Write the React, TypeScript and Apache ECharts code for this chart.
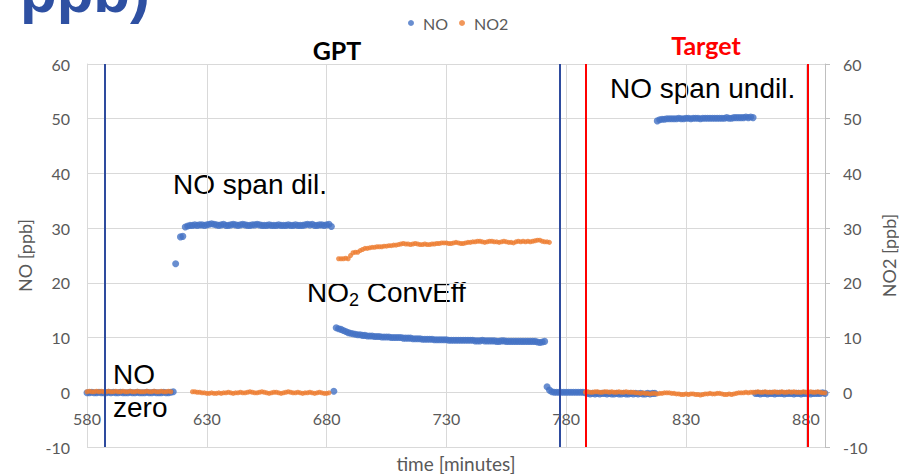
import React, { useEffect, useRef } from "react";
import * as echarts from "echarts";

// NO [ppb] readings, one per minute; each segment = [start minute, values]
const noZeroStart = 580;
const noZero = [
  -0.1, -0.1, 0.0, -0.1, -0.1, 0.0, -0.1, -0.1, -0.1, 0.0,
  -0.1, 0.0, -0.1, -0.1, 0.0, -0.1, -0.1, -0.1, 0.0, -0.1,
  -0.1, 0.0, -0.1, -0.1, -0.1, 0.0, -0.1, -0.1, 0.0, -0.1,
  -0.1, -0.1, 0.0, -0.1, -0.1, 0.0, 0.1, 23.5,
];
const noSpanDilStart = 619;
const noSpanDil = [
  28.4, 28.5,
  30.2, 30.4, 30.5, 30.5, 30.6, 30.5, 30.6, 30.6, 30.5, 30.6,
  30.7, 30.8, 30.7, 30.6, 30.5, 30.6, 30.7, 30.5, 30.5, 30.6,
  30.7, 30.6, 30.5, 30.6, 30.7, 30.6, 30.5, 30.5, 30.6, 30.6,
  30.7, 30.6, 30.5, 30.5, 30.5, 30.6, 30.5, 30.5, 30.5, 30.6,
  30.5, 30.5, 30.5, 30.6, 30.5, 30.5, 30.6, 30.5, 30.5, 30.5,
  30.6, 30.7, 30.6, 30.7, 30.5, 30.5, 30.6, 30.6, 30.5, 30.6,
  30.7, 30.3,
];
const noConvEffStart = 683;
const noConvEff = [
  0.2,
  11.8, 11.6, 11.5, 11.3, 11.1, 10.9, 10.8, 10.7, 10.6, 10.5,
  10.5, 10.4, 10.4, 10.3, 10.3, 10.3, 10.2, 10.2, 10.2, 10.1,
  10.1, 10.1, 10.1, 10.0, 10.0, 10.0, 10.0, 10.0, 9.9, 9.9,
  9.9, 9.9, 9.8, 9.8, 9.8, 9.8, 9.7, 9.7, 9.7, 9.7,
  9.7, 9.6, 9.6, 9.6, 9.6, 9.6, 9.6, 9.5, 9.5, 9.5,
  9.5, 9.5, 9.5, 9.5, 9.5, 9.5, 9.5, 9.5, 9.4, 9.4,
  9.4, 9.5, 9.4, 9.4, 9.4, 9.4, 9.4, 9.3, 9.3, 9.4,
  9.4, 9.3, 9.3, 9.3, 9.3, 9.3, 9.3, 9.3, 9.3, 9.3,
  9.3, 9.3, 9.3, 9.3, 9.2, 9.1, 9.2, 9.3,
];
const noZero2Start = 772;
const noZero2 = [
  1.0,
  0.4, 0.1, 0.0, 0.0, 0.0, 0.0, 0.0, 0.0, 0.0, 0.0,
  0.0, 0.0, 0.0, 0.0, 0.0, -0.1, -0.2, -0.3, -0.2, -0.3,
  -0.2, -0.3, -0.2, -0.2, -0.3, -0.2, -0.3, -0.3, -0.2, -0.3,
  -0.3, -0.2, -0.3, -0.3, -0.2, -0.3, -0.2, -0.3, -0.2, -0.3,
  -0.3, -0.2, -0.3, -0.2, -0.2,
];
const noSpanUndilStart = 818;
const noSpanUndil = [
  49.6, 49.8, 49.9, 49.9, 50.0, 50.0, 50.0, 50.0, 50.0, 50.1,
  50.0, 50.0, 50.1, 50.1, 50.0, 50.1, 50.1, 50.1, 50.0, 50.1,
  50.1, 50.1, 50.1, 50.1, 50.1, 50.1, 50.1, 50.1, 50.1, 50.2,
  50.1, 50.1, 50.2, 50.2, 50.2, 50.2, 50.2, 50.3, 50.2, 50.3, 50.2,
];
const noZero3Start = 859;
const noZero3 = [
  -0.2, -0.2, -0.3, -0.2, -0.2, -0.3, -0.2, -0.2, -0.3, -0.2,
  -0.2, -0.2, -0.3, -0.2, -0.2, -0.2, -0.3, -0.2, -0.2, -0.3,
  -0.2, -0.2, -0.2, -0.3, -0.2, -0.2, -0.2, -0.2, -0.1, -0.2,
];

// NO2 [ppb] readings
const no2ZeroStart = 580;
const no2Zero = [
  0.1, 0.2, 0.1, 0.1, 0.2, 0.1, 0.2, 0.1, 0.1, 0.2,
  0.1, 0.1, 0.2, 0.1, 0.1, 0.2, 0.1, 0.1, 0.2, 0.1,
  0.1, 0.2, 0.1, 0.1, 0.1, 0.2, 0.1, 0.1, 0.2, 0.1,
  0.1, 0.2, 0.1, 0.1, 0.2, 0.1,
];
const no2SpanDilStart = 624;
const no2SpanDil = [
  0.1, 0.1, 0.0, 0.0, -0.1, -0.1, -0.2, -0.2, -0.1, -0.2,
  -0.2, -0.1, -0.2, -0.1, -0.1, 0.0, -0.1, -0.2, -0.1, -0.1,
  0.0, -0.1, -0.1, 0.0, 0.1, 0.0, -0.1, -0.1, 0.0, 0.1,
  0.0, -0.1, -0.2, -0.1, 0.0, 0.0, -0.1, -0.2, -0.1, 0.0,
  0.1, 0.0, -0.1, -0.1, 0.0, -0.1, -0.2, -0.1, -0.1, 0.0,
  -0.1, -0.2, -0.1, 0.0, -0.1, -0.2, -0.2, -0.1,
];
const no2ConvEffStart = 685;
const no2ConvEff = [
  24.4, 24.4, 24.4, 24.5, 24.4,
  25.0, 25.5, 25.6, 25.6, 25.9, 26.1, 26.3, 26.3, 26.4, 26.5,
  26.5, 26.6, 26.6, 26.6, 26.7, 26.7, 26.8, 26.8, 26.9, 26.9,
  27.0, 27.1, 27.2, 27.1, 27.1, 27.0, 27.1, 27.2, 27.1, 27.0,
  27.0, 27.1, 27.0, 27.0, 27.1, 27.1, 27.2, 27.2, 27.3, 27.3,
  27.3, 27.2, 27.2, 27.3, 27.4, 27.3, 27.2, 27.2, 27.3, 27.4,
  27.4, 27.5, 27.5, 27.6, 27.6, 27.5, 27.4, 27.5, 27.6, 27.6,
  27.5, 27.5, 27.4, 27.5, 27.6, 27.5, 27.4, 27.4, 27.3, 27.5,
  27.6, 27.5, 27.6, 27.5, 27.6, 27.5, 27.6, 27.7, 27.8, 27.8,
  27.6, 27.5, 27.5, 27.4,
];
const no2TargetStart = 788;
const no2Target = [
  0.0, 0.1, 0.0, 0.0, 0.1, 0.1, 0.0, 0.0, 0.1, 0.1,
  0.0, 0.1, 0.0, 0.0, 0.1, 0.0, 0.0, 0.1, 0.0, 0.0,
  0.0, -0.1, -0.1, -0.2, -0.1, -0.2, -0.2, -0.3, -0.2, -0.2,
  -0.3, -0.2, -0.2, -0.1, -0.1, -0.1, -0.2, -0.2, -0.3, -0.3,
  -0.4, -0.4, -0.3, -0.4, -0.3, -0.3, -0.4, -0.4, -0.5, -0.4,
  -0.3, -0.3, -0.2, -0.3, -0.3, -0.2, -0.2, -0.3, -0.4, -0.4,
  -0.3, -0.4, -0.3, -0.2, -0.1, -0.1, -0.1, 0.0, -0.1, 0.0,
  0.0, 0.0, 0.1, 0.0, 0.0, 0.1, 0.0, 0.0, 0.0, 0.1,
  0.0, 0.0, 0.1, 0.0, 0.0, 0.1, 0.0, 0.1, 0.0, 0.0,
  0.0, 0.1, 0.0, 0.0, 0.1, 0.0, 0.0, 0.1, 0.0, -0.1, -0.1,
];

// Phase boundaries (minutes)
const gptBoundaries = [587.5, 777.2];
const targetBoundaries = [788.2, 880.8];

const seriesNames = ["NO", "NO2"];

// Axis ranges
const X_MIN = 580;
const X_MAX = 888;
const Y_MIN = -10;
const Y_MAX = 60;

function toPoints(segments: [number, number[]][]) {
  const out: number[][] = [];
  segments.forEach(([start, vals]) => {
    vals.forEach((v, i) => out.push([start + i, v]));
  });
  return out;
}

const noPoints = toPoints([
  [noZeroStart, noZero],
  [noSpanDilStart, noSpanDil],
  [noConvEffStart, noConvEff],
  [noZero2Start, noZero2],
  [noSpanUndilStart, noSpanUndil],
  [noZero3Start, noZero3],
]);
const no2Points = toPoints([
  [no2ZeroStart, no2Zero],
  [no2SpanDilStart, no2SpanDil],
  [no2ConvEffStart, no2ConvEff],
  [no2TargetStart, no2Target],
]);

const GRAY = "#595959";
const GRID = "#D9D9D9";
const ANNO = '"Liberation Sans", Arial, sans-serif';

const GRID_TOP = 64;
const GRID_BOTTOM = 27;
const CHART_H = 474;

export default function App() {
  const ref = useRef<HTMLDivElement>(null);
  useEffect(() => {
    if (!ref.current) return;
    const chart = echarts.init(ref.current, undefined, { renderer: "svg" });
    // x axis crosses the y axis at 0 (Excel style): shift it up from the grid bottom
    const plotH = CHART_H - GRID_TOP - GRID_BOTTOM;
    const zeroOffset = -((0 - Y_MIN) / (Y_MAX - Y_MIN)) * plotH;
    chart.setOption({
      animation: false,
      backgroundColor: "#ffffff",
      textStyle: { fontFamily: "Lato, sans-serif" },
      grid: { left: 87, right: 74, top: GRID_TOP, bottom: GRID_BOTTOM, containLabel: false, outerBoundsMode: "none" },
      legend: {
        data: seriesNames,
        left: 403,
        top: 10,
        icon: "circle",
        itemWidth: 14,
        itemHeight: 6,
        itemGap: 11,
        textStyle: { color: GRAY, fontSize: 16, fontFamily: "Lato" },
      },
      xAxis: {
        type: "value",
        min: X_MIN,
        max: X_MAX,
        interval: 50,
        position: "bottom",
        offset: zeroOffset,
        name: "time [minutes]",
        nameLocation: "middle",
        nameGap: 62,
        nameTextStyle: { color: GRAY, fontSize: 19, fontFamily: "Lato" },
        axisLine: { show: true, onZero: false, lineStyle: { color: GRID, width: 1 } },
        axisTick: { show: false },
        axisLabel: { color: GRAY, fontSize: 16, margin: 18, showMaxLabel: false, fontFamily: "Lato" },
        splitLine: { show: true, lineStyle: { color: GRID, width: 1 } },
      },
      yAxis: [
        {
          type: "value",
          min: Y_MIN,
          max: Y_MAX,
          interval: 10,
          position: "left",
          name: "NO [ppb]",
          nameLocation: "middle",
          nameRotate: 90,
          nameGap: 53,
          nameTextStyle: { color: GRAY, fontSize: 18, fontFamily: "Lato" },
          axisLine: { show: true, onZero: false, lineStyle: { color: GRID } },
          axisTick: { show: false },
          axisLabel: { color: GRAY, fontSize: 16, margin: 17, fontFamily: "Lato" },
          splitLine: { show: true, lineStyle: { color: GRID, width: 1 } },
        },
        {
          type: "value",
          min: Y_MIN,
          max: Y_MAX,
          interval: 10,
          position: "right",
          name: "NO2 [ppb]",
          nameLocation: "middle",
          nameRotate: 90,
          nameGap: 55,
          nameTextStyle: { color: GRAY, fontSize: 18, fontFamily: "Lato" },
          axisLine: { show: true, onZero: false, lineStyle: { color: "#BFBFBF" } },
          axisTick: { show: true, inside: false, length: 5, lineStyle: { color: "#BFBFBF" } },
          axisLabel: { color: GRAY, fontSize: 16, margin: 18, fontFamily: "Lato" },
          splitLine: { show: false },
        },
      ],
      series: [
        {
          name: "NO",
          type: "scatter",
          yAxisIndex: 0,
          data: noPoints,
          symbolSize: 7,
          itemStyle: { color: "#4472C4" },
          markLine: {
            silent: true,
            symbol: ["none", "none"],
            label: { show: false },
            lineStyle: { color: "#2E4B9E", width: 2, type: "solid" },
            data: gptBoundaries.map((v) => ({ xAxis: v })),
          },
        },
        {
          name: "NO2",
          type: "scatter",
          yAxisIndex: 1,
          data: no2Points,
          symbolSize: 5,
          itemStyle: { color: "#ED7D31" },
          markLine: {
            silent: true,
            symbol: ["none", "none"],
            label: { show: false },
            lineStyle: { color: "#FF0000", width: 2, type: "solid" },
            data: targetBoundaries.map((v) => ({ xAxis: v })),
          },
        },
      ],
      graphic: [
        {
          type: "text",
          x: 20,
          y: -9,
          style: { text: "ppb)", font: 'bold 60px "Liberation Sans", Arial, sans-serif', fill: "#2E50A2", align: "left", verticalAlign: "middle" },
        },
        {
          type: "text",
          x: 337,
          y: 50,
          style: { text: "GPT", font: "bold 25px Lato", fill: "#000000", align: "center", verticalAlign: "middle" },
        },
        {
          type: "text",
          x: 706,
          y: 45,
          style: { text: "Target", font: "bold 25px Lato", fill: "#FF0000", align: "center", verticalAlign: "middle" },
        },
        {
          type: "text",
          x: 173,
          y: 184,
          style: { text: "NO span dil.", font: "28px " + ANNO, fill: "#000000", align: "left", verticalAlign: "middle" },
        },
        {
          type: "text",
          x: 610,
          y: 88,
          style: { text: "NO span undil.", font: "28px " + ANNO, fill: "#000000", align: "left", verticalAlign: "middle" },
        },
        {
          type: "text",
          x: 307,
          y: 292,
          style: {
            text: "{a|NO}{b|2}{a| ConvEff}",
            align: "left",
            verticalAlign: "middle",
            rich: {
              a: { fontSize: 28, fontFamily: ANNO, fill: "#000000", color: "#000000", lineHeight: 34, verticalAlign: "middle" },
              b: { fontSize: 18, fontFamily: ANNO, fill: "#000000", color: "#000000", lineHeight: 34, verticalAlign: "bottom" },
            },
          },
        },
        {
          type: "text",
          x: 113,
          y: 374,
          style: { text: "NO", font: "28px " + ANNO, fill: "#000000", align: "left", verticalAlign: "middle" },
        },
        {
          type: "text",
          x: 113,
          y: 407,
          style: { text: "zero", font: "28px " + ANNO, fill: "#000000", align: "left", verticalAlign: "middle" },
        },
      ],
    });
    return () => chart.dispose();
  }, []);
  return (
    <div
      ref={ref}
      style={{ position: "fixed", left: 0, top: 0, width: 899, height: CHART_H, background: "#fff" }}
    />
  );
}
